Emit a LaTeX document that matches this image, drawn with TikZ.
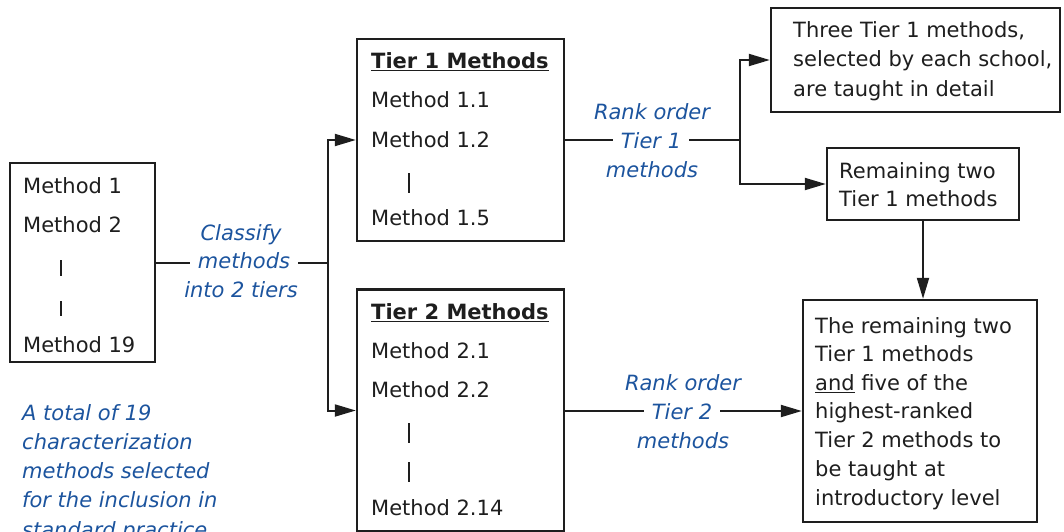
\documentclass[tikz,border=0pt]{standalone}
\usepackage{fontspec}
\setmainfont{DejaVu Sans}
\usetikzlibrary{arrows.meta}
\definecolor{ink}{RGB}{30,30,30}
\definecolor{noteblue}{RGB}{28,84,158}
\tikzset{
  box/.style={draw=ink, line width=2.4pt, inner sep=0pt},
  txt/.style={anchor=base west, inner sep=0pt, text=ink, font=\fontsize{21}{25}\selectfont},
  ellipsisbar/.style={draw=ink, line width=2.2pt},
  lbl/.style={anchor=base, inner sep=0pt, text=noteblue, font=\fontsize{21}{25}\selectfont\itshape},
  lblmid/.style={lbl, inner xsep=8pt},
  note/.style={anchor=base west, inner sep=0pt, text=noteblue, font=\fontsize{21}{25}\selectfont\itshape},
  conn/.style={draw=ink, line width=2pt},
  arrow/.style={conn, -{Triangle[length=21pt, width=12pt]}},
}
\begin{document}
\begin{tikzpicture}[x=1pt, y=-1pt]
\useasboundingbox (0,0) rectangle (1064,532);
\clip (0,0) rectangle (1064,532);

% boxes
\node[box, minimum width=145pt, minimum height=199pt] (all)   at (82.5,262.5) {};
\node[box, minimum width=207pt, minimum height=202pt] (t1)    at (460.5,140) {};
\node[box, minimum width=207pt, minimum height=242pt] (t2)    at (460.5,410.5) {};
\node[box, minimum width=289pt, minimum height=104pt] (top)   at (915.5,60) {};
\node[box, minimum width=192pt, minimum height=72pt]  (rem)   at (923,184) {};
\node[box, minimum width=234pt, minimum height=222pt] (final) at (920,411) {};

% list of all methods
\node[txt] (a1)  at (23,193) {Method 1};
\node[txt] (a2)  at (23,232) {Method 2};
\draw[ellipsisbar] (61,260) -- (61,276);
\draw[ellipsisbar] (61,301) -- (61,316);
\node[txt] (a19) at (23,352) {Method 19};

% tier 1 list
\node[txt] (t1h) at (371,69)  {\bfseries\underline{Tier 1 Methods}};
\node[txt] (t11) at (371,108) {Method 1.1};
\node[txt] (t12) at (371,147) {Method 1.2};
\draw[ellipsisbar] (409,173) -- (409,193);
\node[txt] (t15) at (371,225) {Method 1.5};

% tier 2 list
\node[txt] (t2h)  at (371,319) {\bfseries\underline{Tier 2 Methods}};
\node[txt] (t21)  at (371,358) {Method 2.1};
\node[txt] (t22)  at (371,397) {Method 2.2};
\draw[ellipsisbar] (409,423) -- (409,443);
\draw[ellipsisbar] (409,462) -- (409,482);
\node[txt] (t214) at (371,515) {Method 2.14};

% outcome boxes
\node[txt] (top1) at (793,38) {Three Tier 1 methods,};
\node[txt] (top2) at (793,67) {selected by each school,};
\node[txt] (top3) at (793,96) {are taught in detail};
\node[txt] (rem1) at (839,178) {Remaining two};
\node[txt] (rem2) at (839,206) {Tier 1 methods};
\node[txt] (f1) at (815,333) {The remaining two};
\node[txt] (f2) at (815,361) {Tier 1 methods};
\node[txt] (f3) at (815,390) {\underline{and} five of the};
\node[txt] (f4) at (815,418) {highest-ranked};
\node[txt] (f5) at (815,447) {Tier 2 methods to};
\node[txt] (f6) at (815,476) {be taught at};
\node[txt] (f7) at (815,505) {introductory level};

% connector labels
\node[lbl]    (c1) at (241,240) {Classify};
\node[lblmid] (c2) at (244,268) {methods};
\node[lbl]    (c3) at (241,297) {into 2 tiers};
\node[lbl]    (r11) at (652,119) {Rank order};
\node[lblmid] (r12) at (651,148) {Tier 1};
\node[lbl]    (r13) at (652,177) {methods};
\node[lbl]    (r21) at (683,390) {Rank order};
\node[lblmid] (r22) at (682,419) {Tier 2};
\node[lbl]    (r23) at (683,448) {methods};

% footnote
\node[note] (n1) at (22,420) {A total of 19};
\node[note] (n2) at (22,449) {characterization};
\node[note] (n3) at (22,478) {methods selected};
\node[note] (n4) at (22,507) {for the inclusion in};
\node[note] (n5) at (22,537) {standard practice};

% junctions
\coordinate (jc) at (328,262.5);
\coordinate (j1) at (740,140);

% connectors
\draw[conn] (all.east) -- (all.east -| c2.west);
\draw[conn] (jc -| c2.east) -- (jc);
\draw[arrow] (jc) |- (t1.west);
\draw[arrow] (jc) |- (t2.west);
\draw[conn] (t1.east) -- (t1.east -| r12.west);
\draw[conn] (j1 -| r12.east) -- (j1);
\draw[arrow] (j1) |- (top.west);
\draw[arrow] (j1) |- (rem.west);
\draw[arrow] (rem.south) -- (rem.south |- final.north);
\draw[conn] (t2.east |- final.west) -- (r22.west |- final.west);
\draw[arrow] (r22.east |- final.west) -- (final.west);
\end{tikzpicture}
\end{document}
